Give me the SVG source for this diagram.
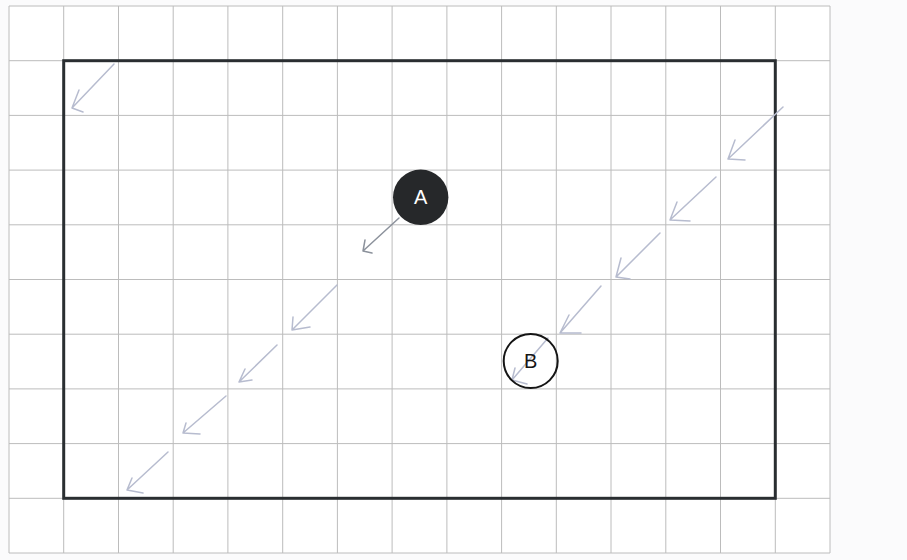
<svg xmlns="http://www.w3.org/2000/svg" width="907" height="560" viewBox="0 0 907 560">
<style>
.grid line{stroke:#bcbcbc;stroke-width:1}
.frame{fill:none;stroke:#2a2e31;stroke-width:3}
.arr path{fill:none;stroke:#b7bccf;stroke-width:1.5;stroke-linecap:round;stroke-linejoin:round}
.arr path.dark{stroke:#8c929c}
.lbl{font-family:"Liberation Sans",Arial,sans-serif;font-size:20px;text-anchor:middle;dominant-baseline:central}
</style>
<rect x="0" y="0" width="907" height="560" fill="#fbfbfc"/>
<rect x="9" y="6" width="821" height="547" fill="#ffffff"/>
<g class="grid">
<line x1="9" y1="6" x2="9" y2="553"/><line x1="63.7" y1="6" x2="63.7" y2="553"/><line x1="118.5" y1="6" x2="118.5" y2="553"/><line x1="173.2" y1="6" x2="173.2" y2="553"/><line x1="227.9" y1="6" x2="227.9" y2="553"/><line x1="282.7" y1="6" x2="282.7" y2="553"/><line x1="337.4" y1="6" x2="337.4" y2="553"/><line x1="392.1" y1="6" x2="392.1" y2="553"/><line x1="446.9" y1="6" x2="446.9" y2="553"/><line x1="501.6" y1="6" x2="501.6" y2="553"/><line x1="556.3" y1="6" x2="556.3" y2="553"/><line x1="611" y1="6" x2="611" y2="553"/><line x1="665.8" y1="6" x2="665.8" y2="553"/><line x1="720.5" y1="6" x2="720.5" y2="553"/><line x1="775.3" y1="6" x2="775.3" y2="553"/><line x1="830" y1="6" x2="830" y2="553"/>
<line x1="9" y1="6" x2="830" y2="6"/><line x1="9" y1="60.7" x2="830" y2="60.7"/><line x1="9" y1="115.4" x2="830" y2="115.4"/><line x1="9" y1="170.1" x2="830" y2="170.1"/><line x1="9" y1="224.8" x2="830" y2="224.8"/><line x1="9" y1="279.5" x2="830" y2="279.5"/><line x1="9" y1="334.2" x2="830" y2="334.2"/><line x1="9" y1="388.9" x2="830" y2="388.9"/><line x1="9" y1="443.6" x2="830" y2="443.6"/><line x1="9" y1="498.3" x2="830" y2="498.3"/><line x1="9" y1="553" x2="830" y2="553"/>
</g>
<rect class="frame" x="63.7" y="60.7" width="711.6" height="437.6"/>
<g id="connectors" class="arr">
<path d="M114 64 L72 108 M79 90 L72 108 L83 112"/>
<path d="M783 107 L728 159 M735 140 L728 159 L745 160"/>
<path d="M716 177 L670 220 M677 202 L670 220 L690 221"/>
<path d="M660 233 L616 277 M621 258 L616 277 L630 279"/>
<path d="M601 286 L560 333 M569 315 L560 333 L581 333"/>
<path d="M548 338 L512 380 M515 368 L512 380 L527 384"/>
<path class="dark" d="M399 218 L363 251 M365 240 L363 251 L372 253"/>
<path d="M337 285 L292 330 M293 317 L292 330 L310 327"/>
<path d="M277 345 L239 382 M245 369 L239 382 L252 380"/>
<path d="M226 396 L183 433 M186 423 L183 433 L200 434"/>
<path d="M168 452 L127 490 M132 478 L127 490 L143 493"/>
</g>
<g id="A">
<circle cx="420.7" cy="197.3" r="27.7" fill="#26282a"/>
<text class="lbl" x="420.7" y="197.3" fill="#ffffff">A</text>
</g>
<g id="B">
<circle cx="530.7" cy="361" r="27" fill="none" stroke="#151515" stroke-width="2"/>
<text class="lbl" x="530.7" y="361" fill="#151515">B</text>
</g>
</svg>
